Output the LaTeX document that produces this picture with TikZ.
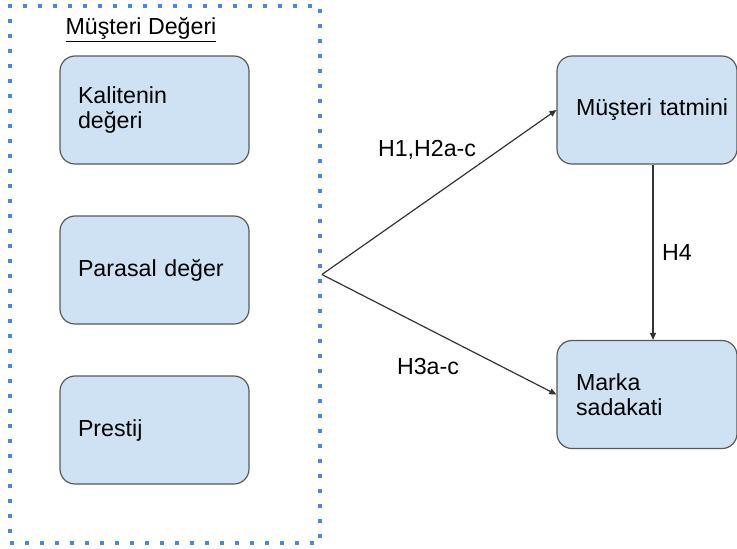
\documentclass[tikz,border=0pt]{standalone}
\usepackage{fontspec}
\setmainfont{Liberation Sans}
\setsansfont{Liberation Sans}
\usetikzlibrary{arrows.meta}
\definecolor{boxfill} {HTML}{CFE2F3}
\definecolor{boxline} {HTML}{595959}
\definecolor{dotcol}  {HTML}{4A86E8}
\definecolor{arrowcol}{HTML}{333333}

\begin{document}
\begin{tikzpicture}[x=0.5pt, y=-0.5pt,
    font=\fontsize{11.6}{12.5}\selectfont\sffamily,
    valuebox/.style={draw=boxline, fill=boxfill, line width=0.6pt,
        rounded corners=7.5pt, text width=76.5pt, inner xsep=9pt,
        minimum height=54pt, align=left},
    effectbox/.style={valuebox, text width=71pt, inner xsep=9.5pt},
    link/.style={draw=arrowcol, line width=0.6pt,
        -{Triangle[length=3.5pt, width=3pt]}}]

\useasboundingbox (0,0) rectangle (737,548);

% ================================================================
% Müşteri Değeri --- dotted group on the left
% ================================================================
\node[draw=dotcol, line width=1.9pt, dash pattern=on 1.9pt off 5.6pt,
    minimum width=155pt, minimum height=268.5pt, inner sep=0pt]
    (grp) at (165,274.5) {};
\node (grptitle) at (141,30) {\underline{Müşteri Değeri}};

\node[valuebox] (kalite)  at (154.5,110) {Kalitenin\\değeri};
\node[valuebox] (parasal) at (154.5,270) {Parasal değer};
\node[valuebox] (prestij) at (154.5,430) {Prestij};

% ================================================================
% outcomes --- right
% ================================================================
\node[effectbox] (tatmin)  at (647,110)   {\mbox{Müşteri tatmini}};
\node[effectbox] (sadakat) at (647,394.5) {Marka\\sadakati};

% hypotheses
\draw[link] (grp.east) -- (tatmin.west);
\draw[link] (grp.east) -- (sadakat.west);
\draw[link] ([xshift=3pt]tatmin.south) -- ([xshift=3pt]sadakat.north);

\node (hypA) at (427,150) {H1,H2a-c};
\node (hypB) at (428,366) {H3a-c};
\node (hypC) at (677,253) {H4};

\end{tikzpicture}
\end{document}
